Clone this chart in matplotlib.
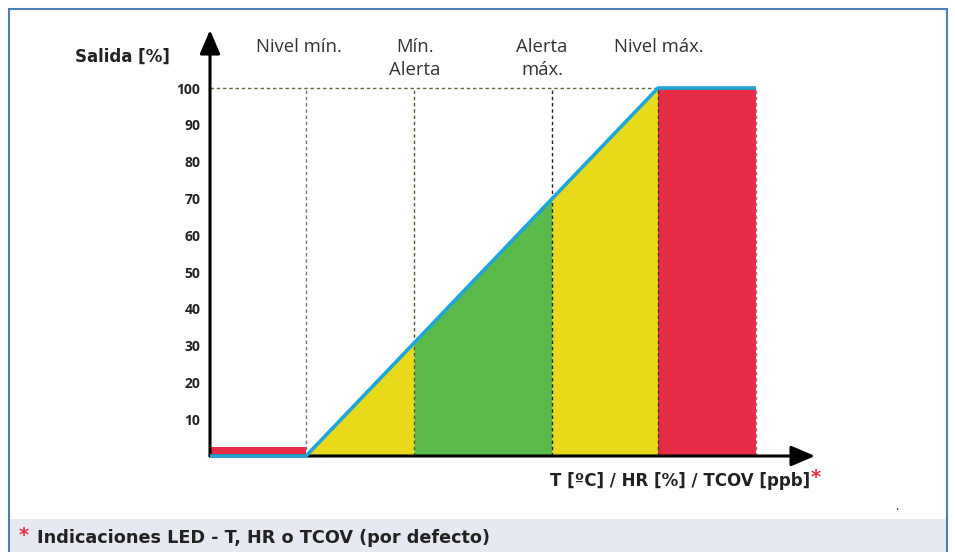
import matplotlib.pyplot as plt
from matplotlib.patches import Rectangle
import numpy as np

plt.rcParams['font.family'] = ['Open Sans', 'DejaVu Sans']
BOLD = ['DejaVu Sans']

# limites de zona (eje x en unidades arbitrarias)
limits = [0, 96, 204, 342, 448, 546]
zone_labels = ['Nivel mín.', 'Mín.\nAlerta', 'Alerta\nmáx.', 'Nivel máx.']
label_x = [89, 205, 332, 449]

# curva de salida
out_x = [0, 96, 448, 546]
out_y = [0, 0, 100, 100]
low_bar = 2.5  # barra roja bajo el nivel minimo

yticks = [10, 20, 30, 40, 50, 60, 70, 80, 90, 100]

YELLOW = '#e8da1a'
GREEN = '#5bbb4a'
RED = '#e62d45'
CYAN = '#1ea6d9'

W, H = 955, 552
fig = plt.figure(figsize=(W / 100, H / 100), dpi=100)

# marco y banda inferior
fig.patches.append(Rectangle((10 / W, 0), 936 / W, 33 / H, transform=fig.transFigure,
                             facecolor='#e6e9f2', edgecolor='none', zorder=0))
fig.patches.append(Rectangle((9 / W, -0.05), 938 / W, 1.05 - 9 / H, transform=fig.transFigure,
                             facecolor='none', edgecolor='#4a7fb0', linewidth=1.5, zorder=1))

ax = fig.add_axes([210 / W, 1 - 456 / H, 605 / W, 426 / H])
ax.set_xlim(0, 605)
ax.set_ylim(0, 426 / 3.68)
ax.patch.set_alpha(0)
for s in ax.spines.values():
    s.set_visible(False)
ax.set_xticks([])
ax.set_yticks(yticks)
ax.set_yticklabels([str(t) for t in yticks], fontsize=10, fontweight='bold', color='#222222')
ax.tick_params(axis='y', length=0, pad=7)

# zonas de color
colors = [YELLOW, GREEN, YELLOW]
for i, c in enumerate(colors):
    xs = [limits[i + 1], limits[i + 2]]
    ax.fill_between(xs, 0, np.interp(xs, out_x, out_y), color=c, linewidth=0, zorder=2)
ax.fill_between([limits[4], limits[5]], 0, 100, color=RED, linewidth=0, zorder=2)
ax.fill_between([limits[0], limits[1]], 0, low_bar, color=RED, linewidth=0, zorder=2)

# lineas guia
vcols = ['#777777', '#5e5630', '#222222', '#333333', '#888888']
for xv, c in zip(limits[1:], vcols):
    ax.plot([xv, xv], [0, 100], color=c, linestyle=(0, (2.5, 2)), linewidth=1.0, zorder=3)
ax.plot([0, limits[4]], [100, 100], color='#6e6538', linestyle=(0, (2.5, 2)), linewidth=1.0, zorder=3)

# ejes con flecha
arrow = dict(arrowstyle='-|>,head_length=1.45,head_width=0.62', color='black',
             linewidth=2.2, shrinkA=0, shrinkB=0, mutation_scale=10)
ax.annotate('', xy=(0, 1), xytext=(0, 0), xycoords='axes fraction', arrowprops=arrow, zorder=4)
ax.annotate('', xy=(1, 0), xytext=(0, 0), xycoords='axes fraction', arrowprops=arrow, zorder=4)

# curva
ax.plot(out_x, out_y, color=CYAN, linewidth=2.6, solid_capstyle='butt', zorder=5, clip_on=False)

# etiquetas de zona
for x, t in zip(label_x, zone_labels):
    ax.text(x, (456 - 38) / 3.68, t, ha='center', va='top', fontsize=13.3,
            color='#333333', linespacing=1.35)

fig.text(122 / W, 1 - 57 / H, 'Salida [%]', ha='center', va='center', fontsize=12,
         fontweight='bold', color='#222222', family=BOLD)
fig.text(810 / W, 1 - 481 / H, 'T [ºC] / HR [%] / TCOV [ppb]', ha='right', va='center',
         fontsize=12, fontweight='bold', color='#222222', family=BOLD)
fig.text(811 / W, 1 - 478 / H, '*', ha='left', va='center', fontsize=14,
         fontweight='bold', color=RED, family=BOLD)
fig.text(897 / W, 1 - 506 / H, '.', ha='center', va='center', fontsize=9, color='#222222')

fig.text(19 / W, 1 - 535 / H, '*', ha='left', va='center', fontsize=14,
         fontweight='bold', color=RED, family=BOLD)
fig.text(37 / W, 1 - 538 / H, 'Indicaciones LED - T, HR o TCOV (por defecto)', ha='left',
         va='center', fontsize=12.7, fontweight='bold', color='#222222', family=BOLD)

fig.savefig('out.png', dpi=100)
